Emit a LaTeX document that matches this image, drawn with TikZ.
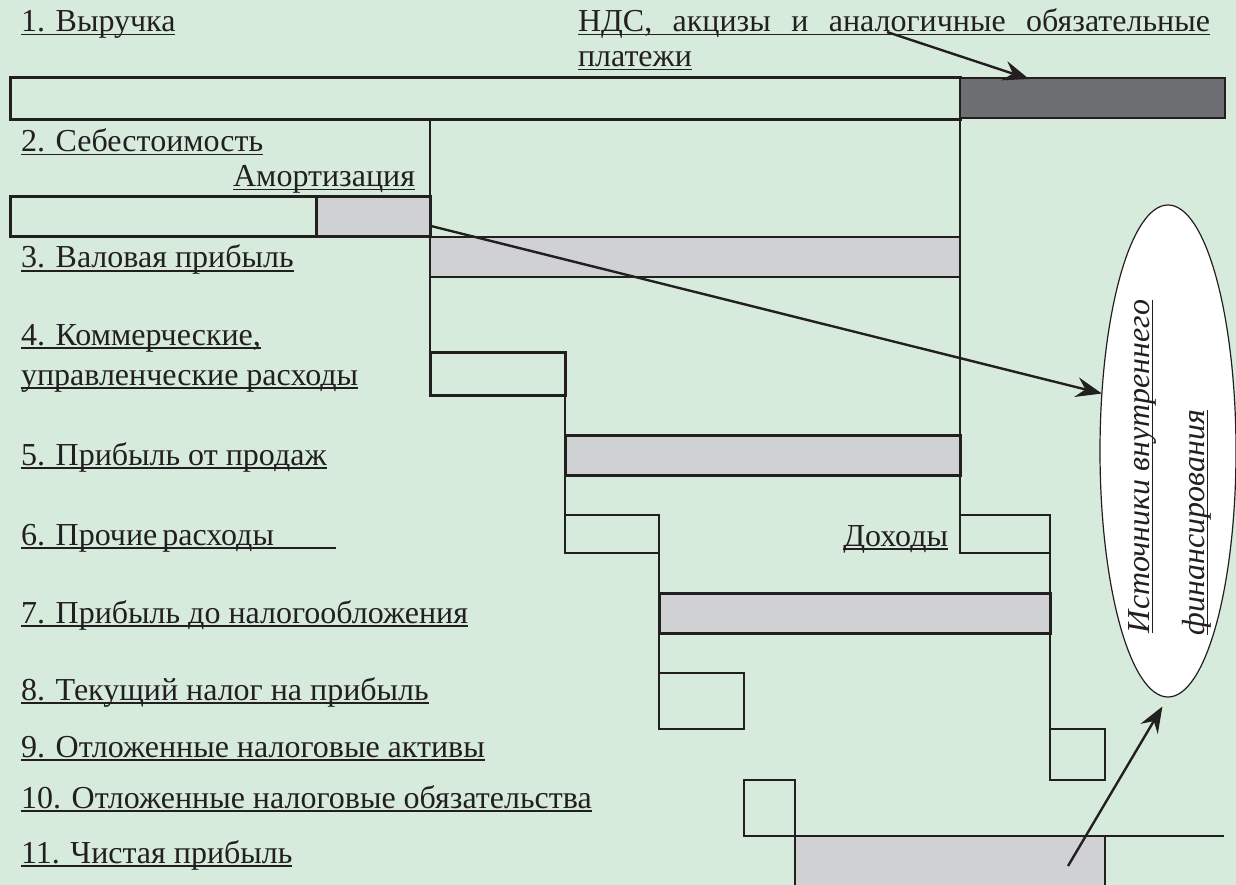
\documentclass[tikz,border=0pt]{standalone}
\usepackage{fontspec}
\setmainfont{Liberation Serif}
\usetikzlibrary{arrows.meta,shapes.geometric,fit}
\definecolor{bg}{RGB}{215,235,221}
\definecolor{lgray}{RGB}{208,209,211}
\definecolor{dgray}{RGB}{109,110,114}
\definecolor{ink}{RGB}{35,31,32}
\newsavebox\ulbox
\newcommand\ulx[1]{\sbox\ulbox{#1}\rlap{\rule[-3.5pt]{\wd\ulbox}{1.4pt}}\usebox\ulbox}
\begin{document}
\begin{tikzpicture}[x=1pt,y=-1pt,
  font=\fontsize{32}{36}\selectfont,
  every node/.style={outer sep=0pt},
  thickbox/.style={draw=ink, line width=3pt, inner sep=0pt},
  thinbox/.style={draw=ink, line width=1.6pt, inner sep=0pt},
  lbl/.style={anchor=base west, inner sep=0pt, text=ink},
  conn/.style={draw=ink, line width=1.6pt},
  arr/.style={draw=ink, line width=2.4pt, -{Stealth[length=26pt,width=20pt,inset=9pt]}}]
\fill[bg] (0,0) rectangle (1236,885);
\useasboundingbox (0,0) rectangle (1236,885);
% bars
\node[thickbox, fit={(10,78) (960,120)}] (b1) {};
\node[draw=ink, line width=2pt, fill=dgray, inner sep=0pt, fit={(960,78) (1225,118)}] (nds) {};
\node[thickbox, fit={(10,197) (316,237)}] (b2a) {};
\node[thickbox, fill=lgray, fit={(316,197) (430,237)}] (b2b) {};
\node[thinbox, fill=lgray, fit={(430,237) (960,277)}] (b3) {};
\node[thickbox, fit={(430,352) (565,395)}] (b4) {};
\node[thickbox, fill=lgray, fit={(565,435) (960,475)}] (b5) {};
\node[thinbox, fit={(565,515) (659,553)}] (b6) {};
\node[thinbox, fit={(960,515) (1050,553)}] (dox) {};
\node[thickbox, fill=lgray, fit={(659,593) (1050,633)}] (b7) {};
\node[thinbox, fit={(659,673) (744,729)}] (b8) {};
\node[thinbox, fit={(1050,729) (1105,780)}] (b9) {};
\node[thinbox, fit={(744,780) (795,836)}] (b10) {};
\node[thinbox, fill=lgray, fit={(795,836) (1105,900)}] (b11) {};
\coordinate (hend) at (1224,836);
% connectors
\draw[conn] (b2b.north east |- b1.south) -- (b4.north west);
\draw[conn] (b1.south east) -- (dox.north west);
\draw[conn] (b4.south east) -- (b6.north west);
\draw[conn] (b6.south east) -- (b8.north west);
\draw[conn] (dox.south east) -- (b9.north west);
\draw[conn] (b10.south west) -- (hend);
% ellipse
\node[ellipse, draw=ink, line width=1.2pt, fill=white, minimum width=136pt, minimum height=492pt, inner sep=0pt] (ell) at (1168,451) {};
\node[lbl, rotate=90, font=\fontsize{32}{36}\selectfont\itshape] (e1) at (1149.5,633) {\ulx{Источники внутреннего}};
\node[lbl, rotate=90, font=\fontsize{32}{36}\selectfont\itshape] (e2) at (1204.5,635) {\ulx{финансирования}};
% labels
\node[lbl] (t1) at (21,32) {\ulx{1. Выручка}};
\node[lbl] (tn1) at (578,32) {\ulx{\hbox to 632pt{НДС,\hfill акцизы\hfill и\hfill аналогичные\hfill обязательные}}};
\node[lbl] (tn2) at (578,67) {\ulx{платежи}};
\node[lbl] (t2) at (21,152) {\ulx{2. Себестоимость}};
\node[lbl, anchor=base east] (tam) at (415,187) {\ulx{Амортизация}};
\node[lbl] (t3) at (21,268) {\ulx{3. Валовая прибыль}};
\node[lbl] (t4a) at (21,345) {\ulx{4. Коммерческие,}};
\node[lbl] (t4b) at (21,385) {\ulx{управленческие расходы}};
\node[lbl] (t5) at (21,465) {\ulx{5. Прибыль от продаж}};
\node[lbl] (t6) at (21,545) {\ulx{\hbox to 315pt{6. Прочие\kern5pt расходы\hfill}}};
\node[lbl, anchor=base east] (tdox) at (948,546) {\ulx{Доходы}};
\node[lbl] (t7) at (21,623) {\ulx{7. Прибыль до налогообложения}};
\node[lbl] (t8) at (21,700) {\ulx{8. Текущий налог на прибыль}};
\node[lbl] (t9) at (21,757) {\ulx{9. Отложенные налоговые активы}};
\node[lbl] (t10) at (21,808) {\ulx{10. Отложенные налоговые обязательства}};
\node[lbl] (t11) at (21,863) {\ulx{11. Чистая прибыль}};
% arrows
\coordinate (a1s) at (887,32);
\coordinate (a1e) at (1029,79);
\draw[arr] (a1s) -- (a1e);
\coordinate (a2s) at (431,226);
\draw[arr] (a2s) -- (ell.139);
\coordinate (a3s) at (1068,866);
\draw[arr, shorten >=11pt] (a3s) -- (ell.south);
\end{tikzpicture}
\end{document}
